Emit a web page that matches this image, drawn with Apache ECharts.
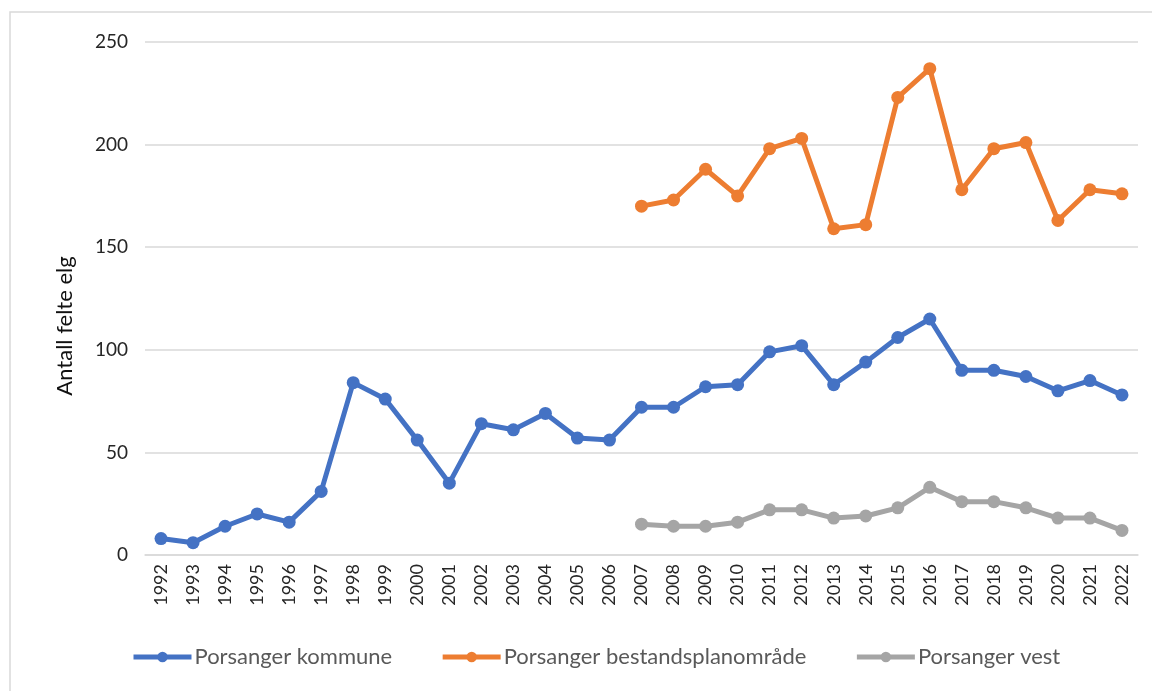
<!DOCTYPE html>
<html>
<head>
<meta charset="utf-8">
<script src="https://cdn.jsdelivr.net/npm/echarts@6/dist/echarts.min.js"></script>
<style>
  html, body { margin: 0; padding: 0; background: #fff; }
  #chart { width: 1152px; height: 691px; }
</style>
</head>
<body>
<div id="chart"></div>
<script>
const years = ['1992', '1993', '1994', '1995', '1996', '1997', '1998', '1999', '2000', '2001',
  '2002', '2003', '2004', '2005', '2006', '2007', '2008', '2009', '2010', '2011', '2012',
  '2013', '2014', '2015', '2016', '2017', '2018', '2019', '2020', '2021', '2022']

const kommune = [8, 6, 14, 20, 16, 31, 84, 76, 56, 35, 64, 61, 69, 57, 56,
  72, 72, 82, 83, 99, 102, 83, 94, 106, 115, 90, 90, 87, 80, 85, 78]

// bestandsplanområde og vest starter i 2007
const bestandsplan = [null, null, null, null, null, null, null, null, null, null, null, null, null, null, null,
  170, 173, 188, 175, 198, 203, 159, 161, 223, 237, 178, 198, 201, 163, 178, 176]

const vest = [null, null, null, null, null, null, null, null, null, null, null, null, null, null, null,
  15, 14, 14, 16, 22, 22, 18, 19, 23, 33, 26, 26, 23, 18, 18, 12]

const yTicks = { min: 0, max: 250, interval: 50 }

const font = 'Lato, "Open Sans", sans-serif'

function line(name, data, color) {
  return {
    name: name,
    type: 'line',
    data: data,
    symbol: 'circle',
    symbolSize: 13,
    lineStyle: { width: 5, color: color },
    itemStyle: { color: color },
    connectNulls: false,
    animation: false
  }
}

const chart = echarts.init(document.getElementById('chart'))
chart.setOption({
  backgroundColor: '#fff',
  textStyle: { fontFamily: font },
  graphic: [{
    type: 'rect',
    shape: { x: 10, y: 12, width: 1160, height: 700 },
    style: { fill: 'none', stroke: '#d9d9d9', lineWidth: 1.5 },
    silent: true
  }, {
    // aksetittel, litt under midten som i originalen
    type: 'text',
    x: 65,
    y: 326,
    rotation: Math.PI / 2,
    style: {
      text: 'Antall felte elg',
      fontSize: 22,
      fontFamily: font,
      fill: '#111',
      align: 'center',
      verticalAlign: 'middle'
    },
    silent: true
  }],
  grid: { left: 145, right: 14, top: 42, bottom: 136 },
  legend: {
    bottom: 18,
    left: 126,
    itemGap: 48,
    itemWidth: 58,
    itemHeight: 13,
    lineStyle: { width: 5 },
    textStyle: { fontSize: 22, color: '#595959', fontFamily: font, padding: [0, 0, 0, -2] },
    data: ['Porsanger kommune', 'Porsanger bestandsplanområde', 'Porsanger vest']
  },
  xAxis: {
    type: 'category',
    data: years,
    boundaryGap: true,
    axisLine: { lineStyle: { color: '#d9d9d9', width: 1.5 } },
    axisTick: { show: false },
    axisLabel: { rotate: 90, interval: 0, fontSize: 18, color: '#262626', margin: 9, fontFamily: font }
  },
  yAxis: {
    type: 'value',
    min: yTicks.min,
    max: yTicks.max,
    interval: yTicks.interval,
    axisLine: { show: false },
    axisTick: { show: false },
    axisLabel: { fontSize: 19, color: '#262626', margin: 17, fontFamily: font },
    splitLine: { lineStyle: { color: '#d9d9d9', width: 1.5 } }
  },
  series: [
    line('Porsanger kommune', kommune, '#4472C4'),
    line('Porsanger bestandsplanområde', bestandsplan, '#ED7D31'),
    line('Porsanger vest', vest, '#A5A5A5')
  ]
})
</script>
</body>
</html>
